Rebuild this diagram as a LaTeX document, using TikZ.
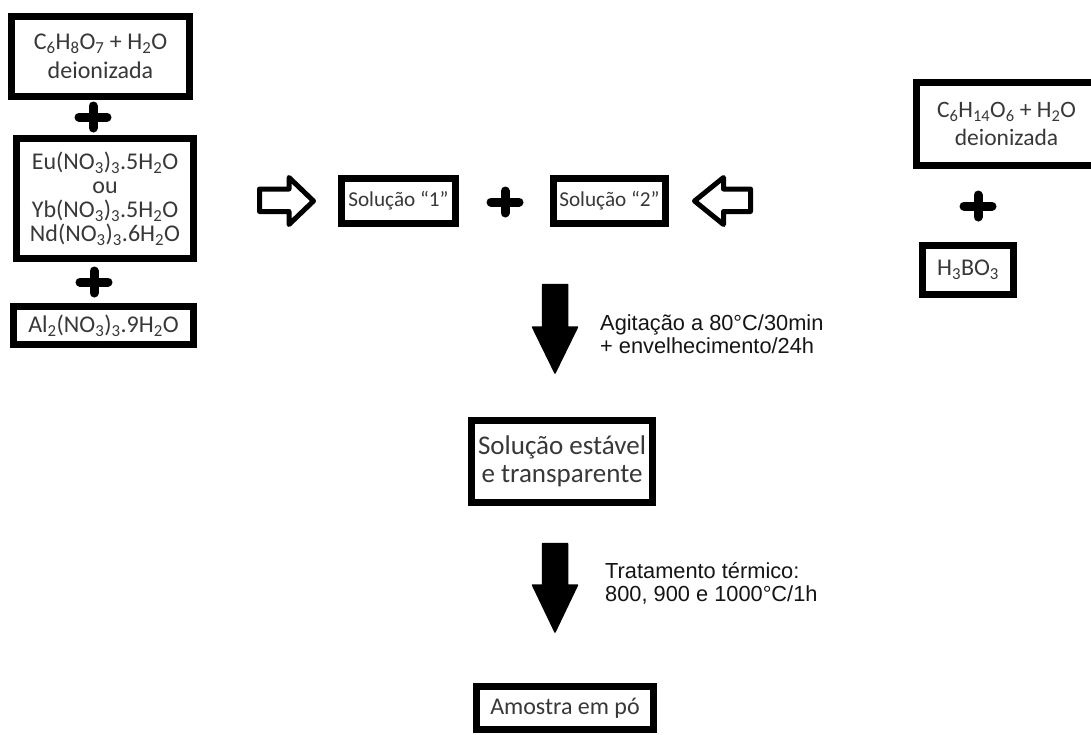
\documentclass[tikz,border=0pt]{standalone}
\usepackage{fontspec}
\setmainfont{Carlito}
\newfontfamily\arialf{Liberation Sans}
\definecolor{boxtxt}{HTML}{383838}
\definecolor{notetxt}{HTML}{151515}
\begin{document}
\begin{tikzpicture}[x=1pt,y=-1pt,
  chembox/.style={draw=black, line width=7pt, fill=white, inner sep=0pt, text=boxtxt, align=center},
  plussign/.style={draw=black, line width=9pt, line cap=round},
  hollowarrow/.style={draw=black, line width=5pt, line join=round, fill=white},
  blockarrow/.style={fill=black, draw=black, line width=1.5pt, line join=round},
  annot/.style={anchor=north west, inner sep=0pt, align=left, text=notetxt, font=\arialf\fontsize{21.8}{23.5}\selectfont}]
\useasboundingbox (0,0) rectangle (1091,734);
\clip (0,0) rectangle (1091,734);
\fill[white] (0,0) rectangle (1091,734);

% left column
\node[chembox, minimum width=178, minimum height=80, font=\fontsize{24}{29}\selectfont] (b1) at (100.5,56.5)
  {C\textsubscript{6}H\textsubscript{8}O\textsubscript{7} + H\textsubscript{2}O\\deionizada};
\node[chembox, minimum width=177, minimum height=120, font=\fontsize{24}{24}\selectfont] (b2) at (105,198.5)
  {Eu(NO\textsubscript{3})\textsubscript{3}.5H\textsubscript{2}O\\ou\\Yb(NO\textsubscript{3})\textsubscript{3}.5H\textsubscript{2}O\\Nd(NO\textsubscript{3})\textsubscript{3}.6H\textsubscript{2}O};
\node[chembox, minimum width=180, minimum height=38, font=\fontsize{24}{29}\selectfont] (b3) at (103.5,325.5)
  {Al\textsubscript{2}(NO\textsubscript{3})\textsubscript{3}.9H\textsubscript{2}O};
\draw[plussign] (79,117) -- (107,117) (93,106) -- (93,128);
\draw[plussign] (80,282) -- (108,282) (94,271) -- (94,293);

% middle row
\draw[hollowarrow] (259.5,189) -- (289,189) -- (289,177.5) -- (313.5,201) -- (289,224.5) -- (289,211.5) -- (259.5,211.5) -- cycle;
\node[chembox, minimum width=114, minimum height=45, font=\fontsize{21.2}{24}\selectfont] (s1) at (398.5,201) {Solução “1”};
\draw[plussign] (491,202) -- (519,202) (505,191) -- (505,213);
\node[chembox, minimum width=112, minimum height=45, font=\fontsize{21.2}{24}\selectfont] (s2) at (609.5,201) {Solução “2”};
\draw[hollowarrow] (750.5,189) -- (723.5,189) -- (723.5,177.5) -- (694.5,201) -- (723.5,224.5) -- (723.5,211.5) -- (750.5,211.5) -- cycle;

% right column
\node[chembox, minimum width=180, minimum height=83, font=\fontsize{23.5}{28}\selectfont] (r1) at (1006.5,124)
  {C\textsubscript{6}H\textsubscript{14}O\textsubscript{6} + H\textsubscript{2}O\\deionizada};
\draw[plussign] (964,206) -- (992,206) (978,195) -- (978,217);
\node[chembox, minimum width=91, minimum height=49, font=\fontsize{24}{29}\selectfont] (r2) at (968,270)
  {H\textsubscript{3}BO\textsubscript{3}};

% downward flow
\draw[blockarrow] (542.5,284.5) -- (567.5,284.5) -- (567.5,327) -- (577.5,327) -- (555,373) -- (532.5,327) -- (542.5,327) -- cycle;
\node[annot] (t1) at (600,314) {Agitação a 80°C/30min\\+ envelhecimento/24h};
\node[chembox, minimum width=181, minimum height=82, font=\fontsize{27}{28}\selectfont] (e) at (562,461.5)
  {Solução estável\\e transparente};
\draw[blockarrow] (542.5,543.5) -- (567.5,543.5) -- (567.5,585) -- (577.5,585) -- (555,632) -- (532.5,585) -- (542.5,585) -- cycle;
\node[annot] (t2) at (605,562) {Tratamento térmico:\\800, 900 e 1000°C/1h};
\node[chembox, minimum width=177, minimum height=43, font=\fontsize{24}{29}\selectfont] (a) at (565,708) {Amostra em pó};
\end{tikzpicture}
\end{document}
